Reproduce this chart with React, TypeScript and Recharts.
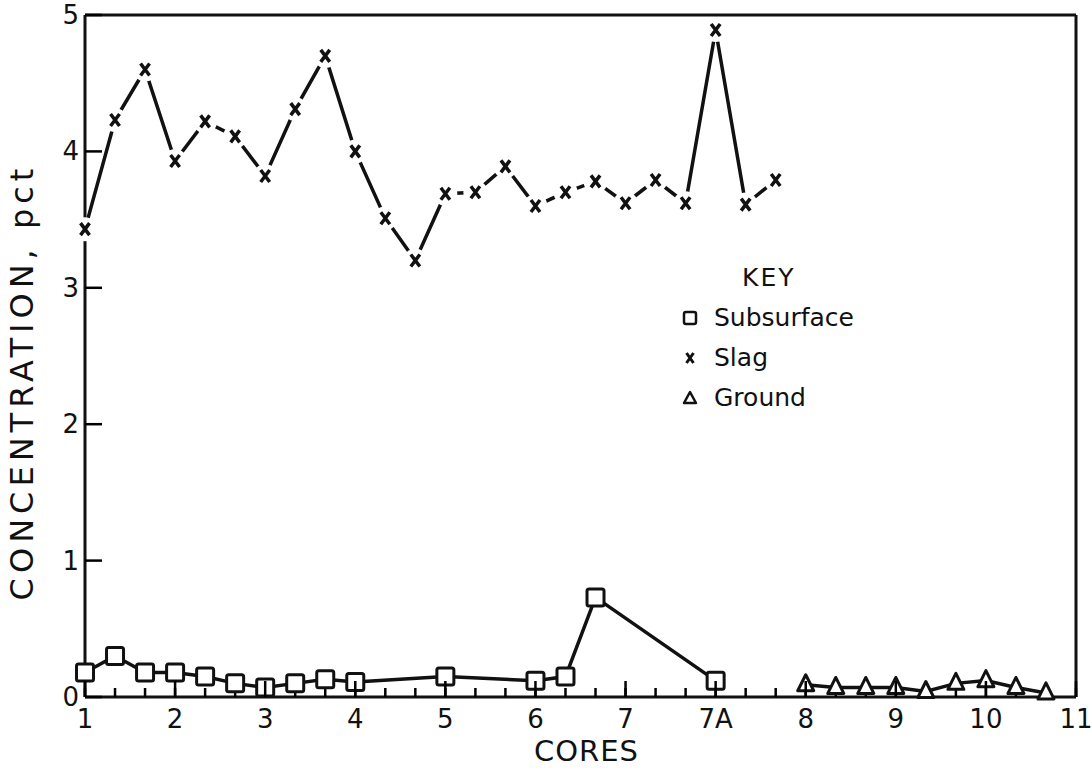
import { LineChart, Line, XAxis, YAxis, Legend } from 'recharts';

// x positions are counted in thirds of a core interval, step 0 = core "1"
const coreLabels = ['1', '2', '3', '4', '5', '6', '7', '7A', '8', '9', '10', '11'];
const yTicks = [0, 1, 2, 3, 4, 5];

const slagSteps = [0, 1, 2, 3, 4, 5, 6, 7, 8, 9, 10, 11, 12, 13, 14, 15, 16, 17, 18, 19, 20, 21, 22, 23];
const slagValues = [
  3.43, 4.23, 4.6, 3.93, 4.22, 4.11, 3.82, 4.31, 4.7, 4.0, 3.51, 3.2,
  3.69, 3.7, 3.89, 3.6, 3.7, 3.78, 3.62, 3.79, 3.62, 4.89, 3.61, 3.79,
];

const subsurfaceSteps = [0, 1, 2, 3, 4, 5, 6, 7, 8, 9, 12, 15, 16, 17, 21];
const subsurfaceValues = [0.18, 0.3, 0.18, 0.18, 0.15, 0.1, 0.07, 0.1, 0.13, 0.11, 0.15, 0.12, 0.15, 0.73, 0.12];

const groundSteps = [24, 25, 26, 27, 28, 29, 30, 31, 32];
const groundValues = [0.09, 0.07, 0.07, 0.07, 0.04, 0.1, 0.12, 0.07, 0.03];

const toPoints = (steps: number[], values: number[]) =>
  steps.map((s, i) => ({ x: 1 + s / 3, value: values[i] }));

const slagData = toPoints(slagSteps, slagValues);
const subsurfaceData = toPoints(subsurfaceSteps, subsurfaceValues);
const groundData = toPoints(groundSteps, groundValues);

const xTicks: number[] = [];
for (let s = 0; s <= 33; s++) xTicks.push(1 + s / 3);

const FONT = '"DejaVu Sans", sans-serif';
const INK = '#111';

const isMajor = (v: number) => Math.abs(v - Math.round(v)) < 1e-6;

// ticks point into the plot; the library draws the short ones, majors get extended here
const BottomTick = (props: any) => {
  const { x, y, payload } = props;
  const major = isMajor(payload.value);
  return (
    <g>
      {major && <line x1={x} x2={x} y1={y} y2={y - 16} stroke="black" strokeWidth={2.5} />}
      {major && (
        <text x={x} y={y + 31} textAnchor="middle" fontFamily={FONT} fontSize={26} fill={INK}>
          {coreLabels[Math.round(payload.value) - 1]}
        </text>
      )}
    </g>
  );
};

const TopTick = (props: any) => {
  const { x, y, payload } = props;
  if (!isMajor(payload.value)) return <g />;
  return <line x1={x} x2={x} y1={y} y2={y + 19} stroke="black" strokeWidth={2.5} />;
};

const LeftTick = (props: any) => {
  const { x, y, payload } = props;
  return (
    <text x={x - 6} y={y + 9} textAnchor="end" fontFamily={FONT} fontSize={26} fill={INK}>
      {payload.value}
    </text>
  );
};

const YLabel = (props: any) => {
  const { viewBox } = props;
  const cx = viewBox.x + 22;
  const cy = viewBox.y + viewBox.height / 2 + 26;
  return (
    <text
      x={cx}
      y={cy}
      transform={`rotate(-90 ${cx} ${cy})`}
      textAnchor="middle"
      dominantBaseline="central"
      fontFamily={FONT}
      fontSize={32}
      letterSpacing={5}
      fill={INK}
    >
      CONCENTRATION, pct
    </text>
  );
};

const XLabel = (props: any) => {
  const { viewBox } = props;
  return (
    <text
      x={viewBox.x + viewBox.width / 2 + 6}
      y={viewBox.y + 64}
      textAnchor="middle"
      fontFamily={FONT}
      fontSize={29}
      letterSpacing={1}
      fill={INK}
    >
      CORES
    </text>
  );
};

const SquareDot = (props: any) => {
  const { cx, cy } = props;
  return <rect x={cx - 8.5} y={cy - 8.5} width={17} height={17} rx={2} fill="#fff" stroke={INK} strokeWidth={3} />;
};

const TriangleDot = (props: any) => {
  const { cx, cy } = props;
  return (
    <path
      d={`M${cx},${cy - 10} L${cx + 8},${cy + 6} L${cx - 8},${cy + 6} Z`}
      fill="#fff"
      stroke={INK}
      strokeWidth={3}
      strokeLinejoin="round"
    />
  );
};

const CrossDot = (props: any) => {
  const { cx, cy } = props;
  return (
    <g>
      <circle cx={cx} cy={cy} r={12} fill="#fff" />
      <path
        d={`M${cx - 4.5},${cy - 6} L${cx + 4.5},${cy + 6} M${cx + 4.5},${cy - 6} L${cx - 4.5},${cy + 6}`}
        stroke={INK}
        strokeWidth={3.5}
      />
    </g>
  );
};

const KeyIcon = ({ kind }: { kind: string }) => (
  <svg width={20} height={20} style={{ marginRight: 14 }}>
    {kind === 'Subsurface' && <rect x={4} y={4} width={12} height={12} rx={2} fill="#fff" stroke={INK} strokeWidth={2.5} />}
    {kind === 'Slag' && <path d="M6.5,5 L13.5,15 M13.5,5 L6.5,15" stroke={INK} strokeWidth={3} />}
    {kind === 'Ground' && <path d="M10,4 L16,15 L4,15 Z" fill="#fff" stroke={INK} strokeWidth={2.5} strokeLinejoin="round" />}
  </svg>
);

const seriesNames = ['Subsurface', 'Slag', 'Ground'];

const KeyContent = () => (
  <div style={{ fontFamily: FONT, fontSize: 25, color: INK, lineHeight: '40px' }}>
    <div style={{ paddingLeft: 62, letterSpacing: 2 }}>KEY</div>
    {seriesNames.map((n) => (
      <div key={n} style={{ display: 'flex', alignItems: 'center' }}>
        <KeyIcon kind={n} />
        <span>{n}</span>
      </div>
    ))}
  </div>
);

const axisLine = { stroke: INK, strokeWidth: 3 };
const tickLine = { stroke: 'black', strokeWidth: 2.5 };

export default function App() {
  return (
    <div style={{ position: 'absolute', left: 0, top: 0, width: 1092, height: 782, background: '#fff' }}>
      <LineChart width={1092} height={782} margin={{ top: 14, right: 15, bottom: 0, left: 0 }}>
        <XAxis
          type="number"
          dataKey="x"
          domain={[1, 12]}
          ticks={xTicks}
          interval={0}
          height={85}
          tickSize={-9}
          tickMargin={9}
          tickLine={tickLine}
          axisLine={axisLine}
          tick={(p: any) => <BottomTick {...p} />}
          label={(p: any) => <XLabel {...p} />}
        />
        <XAxis
          xAxisId="top"
          orientation="top"
          type="number"
          dataKey="x"
          domain={[1, 12]}
          ticks={xTicks}
          interval={0}
          height={1}
          tickSize={-10}
          tickMargin={10}
          tickLine={tickLine}
          axisLine={axisLine}
          tick={(p: any) => <TopTick {...p} />}
        />
        <YAxis
          type="number"
          domain={[0, 5]}
          ticks={yTicks}
          interval={0}
          width={85}
          tickSize={-17}
          tickMargin={17}
          tickLine={tickLine}
          axisLine={axisLine}
          tick={(p: any) => <LeftTick {...p} />}
          label={(p: any) => <YLabel {...p} />}
        />
        <YAxis
          yAxisId="right"
          orientation="right"
          type="number"
          domain={[0, 5]}
          ticks={yTicks}
          interval={0}
          width={1}
          tickSize={-17}
          tickMargin={17}
          tickLine={tickLine}
          axisLine={axisLine}
          tick={false}
        />
        <Legend
          layout="vertical"
          align="center"
          verticalAlign="middle"
          content={<KeyContent />}
          wrapperStyle={{ left: 680, top: 258, width: 220 }}
        />
        <Line
          name="Slag"
          data={slagData}
          dataKey="value"
          stroke={INK}
          strokeWidth={3.5}
          dot={<CrossDot />}
          activeDot={false}
          isAnimationActive={false}
        />
        <Line
          name="Subsurface"
          data={subsurfaceData}
          dataKey="value"
          stroke={INK}
          strokeWidth={3.5}
          dot={<SquareDot />}
          activeDot={false}
          isAnimationActive={false}
        />
        <Line
          name="Ground"
          data={groundData}
          dataKey="value"
          stroke={INK}
          strokeWidth={3.5}
          dot={<TriangleDot />}
          activeDot={false}
          isAnimationActive={false}
        />
      </LineChart>
    </div>
  );
}
